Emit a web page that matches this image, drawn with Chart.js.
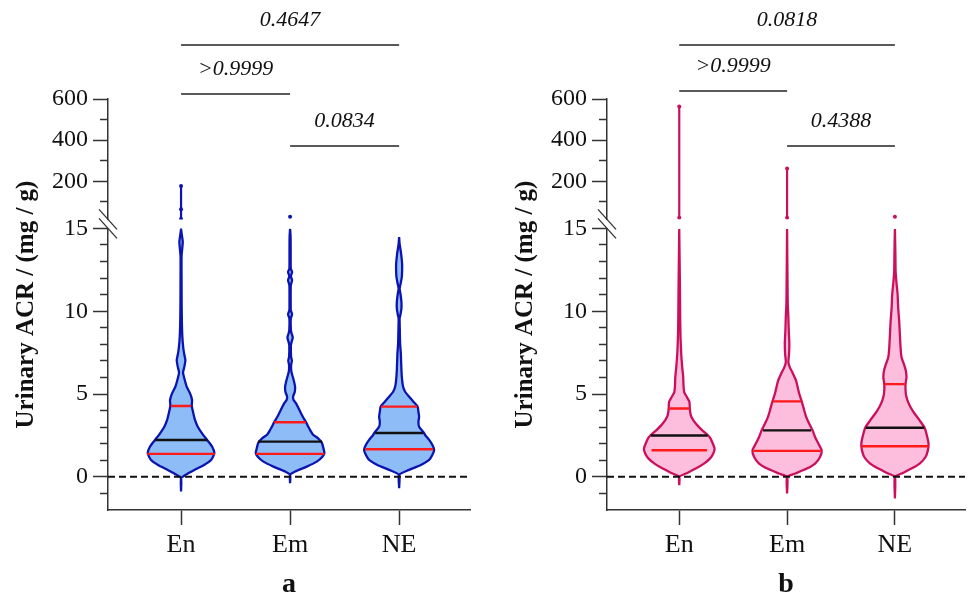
<!DOCTYPE html>
<html><head><meta charset="utf-8">
<script src="https://cdn.jsdelivr.net/npm/chart.js@4.4.1/dist/chart.umd.min.js"></script>
<style>
html,body{margin:0;padding:0;background:#fff;}
#wrap{position:relative;width:969px;height:596px;overflow:hidden;}
.pane{position:absolute;top:0;height:596px;}
#pa{left:0;width:484px;}
#pb{left:499px;width:470px;}
canvas{display:block;}
</style></head><body>
<div id="wrap">
  <div class="pane" id="pa"><canvas id="ca" width="484" height="596"></canvas></div>
  <div class="pane" id="pb"><canvas id="cb" width="470" height="596"></canvas></div>
</div>
<script>
// ---------- data ----------
const groups = ['En', 'Em', 'NE'];
const panelLabels = ['a', 'b'];
const yTitle = 'Urinary ACR / (mg / g)';
const lowerTicks = [-1,0,1,2,3,4,5,6,7,8,9,10,11,12,13,14,15];
const upperTicks = [100,200,300,400,500,600];
const bracketPairs = [[0,2],[0,1],[1,2]];
const aPValues = ['0.4647', '>0.9999', '0.0834'];
const bPValues = ['0.0818', '>0.9999', '0.4388'];

// violin outlines: value levels and relative density (half width)
const aEnLevels = [-0.89,-0.08,0.12,0.42,0.72,1.02,1.43,1.83,2.23,2.63,3.03,3.43,3.83,4.28,4.64,5.04,5.44,5.94,6.3,6.7,7.05,7.4,7.75,8.45,9.46,10.5,12.0,13.3,13.8,14.2,14.6,14.95];
const aEnDensity = [0,0,4.3,13.3,23,30,33.3,31,26,21,16.7,14,12.3,10.7,11,9,5.7,3.3,2.0,3.5,4.3,3.2,2.3,1.3,0.8,0.6,0.5,0.5,1.2,1.7,0.8,0];
const aEmLevels = [-0.38,0.12,0.32,0.62,0.92,1.22,1.43,1.73,2.07,2.33,2.53,2.83,3.13,3.3,3.63,4.04,4.44,4.64,4.84,5.14,5.44,5.74,6.04,6.35,6.75,7.01,7.25,7.95,8.15,8.41,8.66,8.86,9.56,9.82,10.06,10.46,11.57,11.87,12.11,12.37,12.57,13.27,14.48,14.98];
const aEmDensity = [0,0,5,16.7,26.7,32.3,34.3,33.3,31.7,28,23.3,20,17.3,16,12.7,9.3,6,3.5,3,4.7,5,4,2.7,1.3,1,1.8,1,0.8,1.5,2.7,1.5,0.8,0.7,2,0.7,0.6,0.7,2,0.8,2,0.7,0.6,0.5,0];
const aNELevels = [-0.68,0.12,0.42,0.72,1.02,1.33,1.63,1.93,2.23,2.53,2.69,3.03,3.33,3.63,3.93,4.24,4.54,4.84,5.14,5.44,5.84,6.45,7.45,8.05,8.86,9.56,9.76,10.16,10.56,11.07,11.37,11.67,12.07,12.47,12.87,13.47,14.07,14.47];
const aNEDensity = [0,0,10,21.7,30,33.3,35,33.3,30,26,24.5,20,19.3,20,19.3,18.5,14.3,10,6,4,3,2.3,1.7,1,0.7,0.5,1.2,2.3,2.3,1.3,0.5,1.5,2.7,3,3,2,0.5,0];

const bEnLevels = [-0.5,0,0.2,0.5,0.8,1.1,1.4,1.7,2.0,2.31,2.51,2.81,3.11,3.41,3.71,4.11,4.52,4.82,5.12,5.52,6.02,6.63,7.43,8.43,9.43,11.45,14.96];
const bEnDensity = [0,0,6.7,16.7,25,31,34.3,35.7,34,31.7,29,23.3,18.3,14.3,11.7,10.7,10.3,7.7,5,4.3,4,3,2,1.3,1,0.7,0];
const bEmLevels = [-1.0,0,0.2,0.5,0.8,1.2,1.6,2.0,2.41,2.81,3.22,3.62,4.02,4.52,5.02,5.42,5.82,6.23,6.63,6.93,7.43,8.04,8.84,9.65,10.45,11.45,14.96];
const bEmDensity = [0,0,8.3,20,28.3,33.3,35,31.7,28.3,25.7,22.3,19.3,17.3,15,12.3,10.7,9,6,2.7,1.3,2,2.3,1.7,1.3,0.7,0.5,0];
const bNELevels = [-1.3,0,0.2,0.5,0.8,1.2,1.6,2.0,2.41,2.97,3.41,3.81,4.22,4.62,5.02,5.58,6.02,6.42,6.82,7.22,7.82,8.63,9.43,10.23,11.04,11.64,12.44,13.45,14.96];
const bNEDensity = [0,0,6.7,16.7,25,31,33.3,34,32.7,30,25,20,15.7,12.7,11,10.7,11.7,11,9,6.7,5.7,5,4.3,3.3,2.7,1.7,0.7,0.5,0];

// quartiles [Q1, median, Q3] and their line half-widths (density units)
const aQuartiles = [[1.39,2.23,4.28],[1.39,2.13,3.30],[1.67,2.65,4.24]];
const aQuartileDensity = [[33.7,26,10],[34.2,32,15.8],[34,24,18]];
const bQuartiles = [[1.61,2.50,4.13],[1.57,2.81,4.56],[1.85,2.97,5.60]];
const bQuartileDensity = [[28,28.7,10.3],[34,24.3,14.2],[33.8,29.5,10]];

// values above the axis break
const aHighValues = [[17,65,177],[28],[]];
const bHighValues = [[23,563],[23,263],[28]];

// ---------- drawing ----------
const SERIF = "'Liberation Serif', 'Times New Roman', Times, serif";
const AXIS_COLOR = '#333';
const DENS_TO_X = 1 / 109;

function violinData(center, levels, dens) {
  const pts = [];
  for (let i = 0; i < levels.length; i++) pts.push({x: center + dens[i] * DENS_TO_X, y: levels[i]});
  for (let i = levels.length - 1; i >= 0; i--) pts.push({x: center - dens[i] * DENS_TO_X, y: levels[i]});
  return pts;
}

function buildDatasets(profiles, quartiles, qDens, highs, stroke, fill) {
  const ds = [];
  profiles.forEach((p, i) => {
    ds.push({data: violinData(i, p[0], p[1]), showLine: true, fill: 'shape', backgroundColor: fill,
      borderColor: stroke, borderWidth: 2.3, pointRadius: 0, tension: 0.2, yAxisID: 'y', order: 2});
    quartiles[i].forEach((q, k) => {
      const w = qDens[i][k] * DENS_TO_X;
      ds.push({data: [{x: i - w, y: q}, {x: i + w, y: q}], showLine: true, fill: false,
        borderColor: k === 1 ? '#111' : '#ff1a1a', borderWidth: 2.4, pointRadius: 0, yAxisID: 'y', order: 0});
    });
    if (highs[i].length) {
      ds.push({data: highs[i].map(v => ({x: i, y: v})), showLine: true, fill: false,
        borderColor: stroke, backgroundColor: stroke, borderWidth: 2.2, pointRadius: 2, pointBorderWidth: 0,
        pointBackgroundColor: stroke, yAxisID: 'y2', order: 1});
    }
  });
  return ds;
}

function extrasPlugin(pValues, tierOffsets) {
  return {
    id: 'extras',
    afterDatasetsDraw(chart) {
      const {ctx, chartArea, scales} = chart;
      const y0 = scales.y.getPixelForValue(0);
      ctx.save();
      ctx.strokeStyle = '#111'; ctx.lineWidth = 2; ctx.setLineDash([7, 4]);
      ctx.beginPath(); ctx.moveTo(chartArea.left, y0); ctx.lineTo(chartArea.right, y0); ctx.stroke();
      ctx.restore();
    },
    afterDraw(chart) {
      const {ctx, chartArea, scales} = chart;
      ctx.save();
      ctx.translate(27, (chartArea.top + chartArea.bottom) / 2);
      ctx.rotate(-Math.PI / 2);
      ctx.fillStyle = '#111';
      ctx.font = 'bold 25px ' + SERIF;
      ctx.textAlign = 'center'; ctx.textBaseline = 'middle';
      ctx.fillText(yTitle, 0, 0);
      ctx.restore();
      const ax = scales.y.right;
      ctx.save();
      ctx.strokeStyle = AXIS_COLOR; ctx.lineWidth = 1.3;
      [scales.y2.bottom, scales.y.top].forEach(yc => {
        ctx.beginPath(); ctx.moveTo(ax - 9, yc - 10); ctx.lineTo(ax + 9, yc + 10); ctx.stroke();
      });
      ctx.restore();
      ctx.save();
      ctx.strokeStyle = '#222'; ctx.lineWidth = 1.4; ctx.fillStyle = '#111';
      ctx.font = 'italic 22px ' + SERIF; ctx.textAlign = 'center'; ctx.textBaseline = 'middle';
      bracketPairs.forEach((pr, k) => {
        const x1 = scales.x.getPixelForValue(pr[0]);
        const x2 = scales.x.getPixelForValue(pr[1]);
        const yy = chartArea.top + tierOffsets[k];
        ctx.beginPath(); ctx.moveTo(x1, yy); ctx.lineTo(x2, yy); ctx.stroke();
        ctx.fillText(pValues[k], (x1 + x2) / 2, yy - 25);
      });
      ctx.restore();
    }
  };
}

function makeChart(canvas, label, datasets, rightPad, plugin) {
  const tickFont = {family: SERIF, size: 24};
  const leftAfterFit = s => { s.width = 108; };
  return new Chart(canvas, {
    type: 'scatter',
    data: {datasets},
    options: {
      responsive: false, animation: false, devicePixelRatio: 1,
      layout: {padding: {top: 99, right: rightPad, left: 0, bottom: 0}},
      plugins: {legend: {display: false}, tooltip: {enabled: false}},
      scales: {
        x: {
          type: 'linear', position: 'bottom', min: -0.67, max: 2.65,
          afterBuildTicks: s => { s.ticks = groups.map((g, i) => ({value: i})); },
          afterFit: s => { s.height = 86; },
          ticks: {callback: v => groups[v], font: {family: SERIF, size: 26}, color: '#111', padding: 5, autoSkip: false, maxRotation: 0},
          grid: {drawOnChartArea: false, tickLength: 15, tickColor: AXIS_COLOR, tickWidth: 1.5},
          border: {color: AXIS_COLOR, width: 1.5},
          title: {display: true, text: label, color: '#111', font: {family: SERIF, size: 28, weight: 'bold', lineHeight: 0.8}, padding: 0}
        },
        y: {
          type: 'linear', position: 'left', stack: 'v', stackWeight: 281.5, weight: 1, min: -2, max: 15,
          afterBuildTicks: s => { s.ticks = lowerTicks.map(v => ({value: v})); },
          afterFit: leftAfterFit,
          ticks: {callback: v => (v % 5 === 0 ? String(v) : ''), font: tickFont, color: '#111', padding: 5, autoSkip: false},
          grid: {drawOnChartArea: false, tickLength: 15, tickColor: AXIS_COLOR, tickWidth: 1.5,
                 tickBorderDash: c => (c.tick && c.tick.value % 5 === 0) ? [] : [0, 7, 8, 0]},
          border: {color: AXIS_COLOR, width: 1.5}
        },
        yg: {
          type: 'linear', position: 'left', stack: 'v', stackWeight: 9, weight: 2, min: 0, max: 1,
          afterFit: leftAfterFit,
          ticks: {display: false}, grid: {display: false}, border: {display: false}
        },
        y2: {
          type: 'linear', position: 'left', stack: 'v', stackWeight: 120.4, weight: 3, min: 15, max: 600,
          afterBuildTicks: s => { s.ticks = upperTicks.map(v => ({value: v})); },
          afterFit: leftAfterFit,
          ticks: {callback: v => (v % 200 === 0 ? String(v) : ''), font: tickFont, color: '#111', padding: 5, autoSkip: false},
          grid: {drawOnChartArea: false, tickLength: 15, tickColor: AXIS_COLOR, tickWidth: 1.5,
                 tickBorderDash: c => (c.tick && c.tick.value % 200 === 0) ? [] : [0, 7, 8, 0]},
          border: {color: AXIS_COLOR, width: 1.5}
        }
      }
    },
    plugins: [plugin]
  });
}

const aDatasets = buildDatasets([[aEnLevels, aEnDensity], [aEmLevels, aEmDensity], [aNELevels, aNEDensity]],
  aQuartiles, aQuartileDensity, aHighValues, '#0b14b0', '#8dbcf7');
const bDatasets = buildDatasets([[bEnLevels, bEnDensity], [bEmLevels, bEmDensity], [bNELevels, bNEDensity]],
  bQuartiles, bQuartileDensity, bHighValues, '#cc0f5c', '#fdbddc');

makeChart(document.getElementById('ca'), panelLabels[0], aDatasets, 14, extrasPlugin(aPValues, [-54, -5, 47]));
makeChart(document.getElementById('cb'), panelLabels[1], bDatasets, 0, extrasPlugin(bPValues, [-54, -8, 47]));
</script>
</body></html>
